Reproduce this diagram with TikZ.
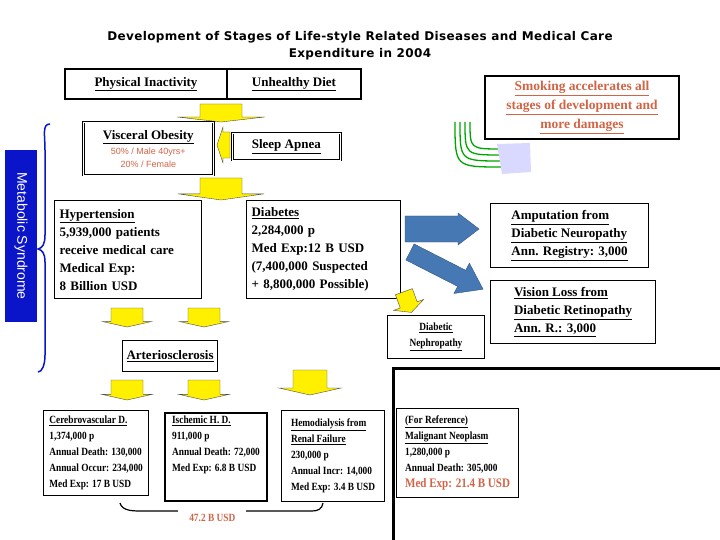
\documentclass[tikz,border=0pt]{standalone}
\usepackage{fontspec}
\setmainfont{Liberation Serif}
\newfontfamily\sansf{Liberation Sans}
\newfontfamily\titlef{DejaVu Sans}[LetterSpace=3]
\newfontfamily\narrowser{Liberation Serif}[FakeStretch=0.85]
\definecolor{yel}{RGB}{255,240,0}
\definecolor{blu}{RGB}{70,120,180}
\definecolor{red1}{RGB}{210,100,70}
\definecolor{msb}{RGB}{10,20,200}
\newcommand\yarr[5]{% cx, ytop, shaft half, head half, total length
  \fill[yel,draw=black!70,line width=0.4pt] (#1-#3,#2) -- (#1+#3,#2) -- (#1+#3,#2+#5*0.72) -- (#1+#4,#2+#5*0.72) -- (#1,#2+#5) -- (#1-#4,#2+#5*0.72) -- (#1-#3,#2+#5*0.72) -- cycle;}
\begin{document}
\begin{tikzpicture}[x=1pt,y=-1pt,
  bx/.style={draw,line width=1.2pt,anchor=north west,inner sep=4pt,align=left,font=\bfseries\fontsize{13}{18}\selectfont},
  sb/.style={draw,line width=1.2pt,anchor=north west,inner sep=3pt,align=left,font=\narrowser\bfseries\fontsize{11}{16}\selectfont},
  dbl/.style={double,double distance=1.2pt,line width=0.6pt}]
\useasboundingbox (0,0) rectangle (720,540);
\node[font=\titlef\bfseries\fontsize{12}{17}\selectfont,align=center] (title) at (360,46) {Development of Stages of Life-style Related Diseases and Medical Care\\Expenditure in 2004};
% top boxes
\node[bx,minimum width=162,minimum height=30,align=center,line width=2pt] (pi) at (64,68) {\underline{Physical Inactivity}};
\node[bx,minimum width=134,minimum height=30,align=center,line width=2pt] (ud) at (226,68) {\underline{Unhealthy Diet}};
\yarr{221}{104}{21}{44}{18}
\node[bx,dbl,minimum width=130,minimum height=53,align=center,inner sep=2pt,font=\bfseries\fontsize{13}{13}\selectfont] (vo) at (83,122) {\underline{Visceral Obesity}\\[2pt]\sansf\mdseries\fontsize{9}{13}\selectfont\color{red1}50\% / Male 40yrs+\\\sansf\mdseries\fontsize{9}{13}\selectfont\color{red1}20\% / Female};
\fill[yel,draw=black!70,line width=0.4pt] (230,132) -- (223,132) -- (223,127) -- (217,145) -- (223,163) -- (223,158) -- (230,158) -- cycle;
\node[bx,dbl,minimum width=108,minimum height=27,align=center] (sa) at (232,133) {\underline{Sleep Apnea}};
\yarr{221}{178}{21}{43}{22}
% metabolic syndrome
\draw[msb,line width=1.5pt] (50,124) .. controls (42,124) and (45,135) .. (45,150) -- (45,235) .. controls (45,245) and (42,248) .. (38,249) .. controls (42,250) and (45,253) .. (45,262) -- (45,355) .. controls (45,365) and (42,372) .. (38,372);
\node[fill=msb,minimum width=32,minimum height=172,inner sep=0] (ms) at (21,236) {};
\node[rotate=-90,text=white,font=\sansf\fontsize{14}{15}\selectfont] (mst) at (21,236) {Metabolic Syndrome};
% hypertension / diabetes
\node[bx,minimum width=147,minimum height=98,inner sep=5pt,text width=137] (ht) at (54,200) {\underline{Hypertension}\\5,939,000 patients\\receive medical care\\Medical Exp:\\8 Billion USD};
\node[bx,minimum width=154,minimum height=98,inner sep=5pt,text width=144] (db) at (246,200) {\underline{Diabetes}\\2,284,000 p\\Med Exp:12 B USD\\(7,400,000 Suspected\\+ 8,800,000 Possible)};
% blue arrows
\fill[blu,draw=blu!70!black,line width=0.4pt] (405,216) -- (458,216) -- (458,213) -- (479,229) -- (458,245) -- (458,242) -- (405,242) -- cycle;
\begin{scope}[shift={(410,252)},rotate=-27]
\fill[blu,draw=blu!70!black,line width=0.4pt] (0,-9) -- (58,-9) -- (58,-17) -- (82,0) -- (58,17) -- (58,9) -- (0,9) -- cycle;
\end{scope}
\node[bx,minimum width=158,minimum height=64,inner sep=5pt] (am) at (490,203) {\underline{Amputation from}\\\underline{Diabetic Neuropathy}\\\underline{Ann. Registry: 3,000}};
\node[bx,minimum width=165,minimum height=63,inner sep=5pt] (vl) at (490,280) {\underline{Vision Loss from}\\\underline{Diabetic Retinopathy}\\\underline{Ann. R.: 3,000}};
% smoking
\node[bx,line width=2pt,minimum width=194,minimum height=63,align=center,text=red1,font=\bfseries\fontsize{13.5}{19}\selectfont] (sm) at (484,75) {\underline{Smoking accelerates all}\\\underline{stages of development and}\\\underline{more damages}};
\foreach \i in {0,1,2,3}{\draw[green!65!black,line width=1.3pt] (455+5*\i,122) .. controls (455+5*\i,167-6*\i) and (455+5*\i,167-6*\i) .. (502,167-6*\i);}
\fill[blue!15] (497,144) -- (530,143) -- (531,172) -- (502,174) -- cycle;
% nephropathy
\begin{scope}[shift={(408,303)},rotate=20]
\fill[yel,draw=black!70,line width=0.4pt] (-9,-12) -- (9,-12) -- (9,2) -- (16,2) -- (0,10) -- (-16,2) -- (-9,2) -- cycle;
\end{scope}
\node[sb,minimum width=97,minimum height=43,align=center,line width=1pt] (dn) at (387,315) {\underline{Diabetic}\\\underline{Nephropathy}};
\yarr{127}{308}{16}{24}{19}
\yarr{204}{308}{16}{24}{19}
\node[bx,minimum width=86,minimum height=31,align=center,line width=1pt] (ar) at (122,340) {\underline{Arteriosclerosis}};
\yarr{127}{380}{16}{25}{20}
\yarr{204}{380}{16}{25}{20}
\yarr{310}{370}{17}{31}{25}
% bottom row
\node[sb,minimum width=105,minimum height=85] (cv) at (43,410) {\underline{Cerebrovascular D.}\\1,374,000 p\\Annual Death: 130,000\\Annual Occur: 234,000\\Med Exp: 17 B USD};
\node[sb,minimum width=102,minimum height=78,line width=2pt,anchor=north west] (ih) at (164,412) {\underline{Ischemic H. D.}\\911,000 p\\Annual Death: 72,000\\Med Exp: 6.8 B USD\\[10pt]};
\node[sb,minimum width=103,minimum height=91] (hd) at (281,410) {\underline{Hemodialysis from}\\\underline{Renal Failure}\\230,000 p\\Annual Incr: 14,000\\Med Exp: 3.4 B USD};
\draw[line width=3pt] (393,540) -- (393,368) -- (720,368);
\node[sb,minimum width=122,minimum height=89] (rf) at (396,408) {\underline{(For Reference)}\\\underline{Malignant Neoplasm}\\1,280,000 p\\Annual Death: 305,000\\{\color{red1}\fontsize{13}{16}\selectfont Med Exp: 21.4 B USD}};
\draw[line width=1.2pt] (120,503) .. controls (122,510) and (130,511) .. (140,511) -- (312,511) .. controls (318,511) and (322,509) .. (323,503);
\node[dbl,fill=white,minimum width=68,minimum height=31,text=red1,font=\narrowser\bfseries\fontsize{11}{13}\selectfont,anchor=north west] (tot) at (178,502) {47.2 B USD};
\end{tikzpicture}
\end{document}
